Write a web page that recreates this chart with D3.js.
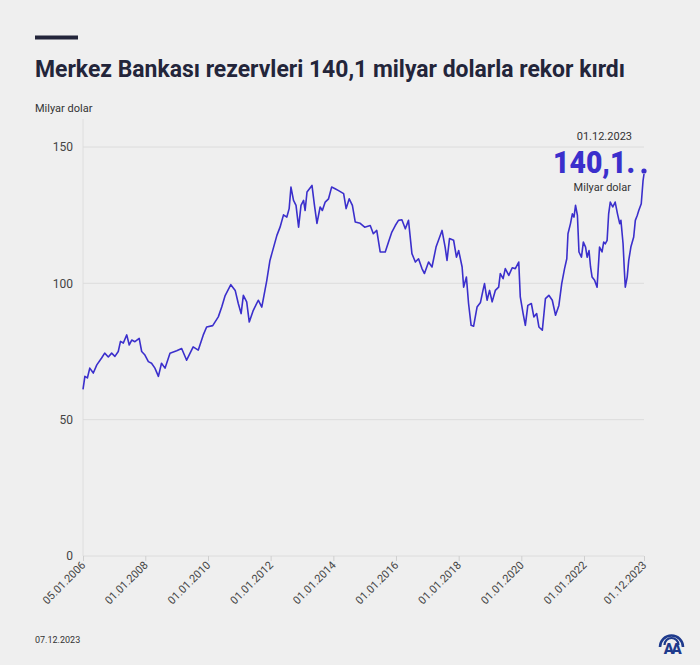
<!DOCTYPE html>
<html>
<head>
<meta charset="utf-8">
<script src="https://cdn.jsdelivr.net/npm/d3@7"></script>
<style>
  html, body { margin: 0; padding: 0; background: #efefef; }
  svg { display: block; font-family: Roboto, "Noto Sans", sans-serif; }
</style>
</head>
<body>
<svg id="chart" width="700" height="665"></svg>
<script>
const dates = [
  "2006-01-05","2006-01-27","2006-02-25","2006-03-25","2006-05-05","2006-06-15","2006-08-10","2006-09-15","2006-10-27","2006-12-05",
  "2007-01-12","2007-02-20","2007-03-18","2007-04-20","2007-05-30","2007-06-28","2007-07-27","2007-09-02","2007-10-22","2007-11-20","2007-12-28",
  "2008-02-06","2008-03-14","2008-04-22","2008-06-02","2008-07-08","2008-08-18","2008-10-15","2009-01-01",
  "2009-02-28","2009-04-27","2009-07-12","2009-09-09","2009-11-06","2009-12-16",
  "2010-02-25","2010-05-01","2010-06-10","2010-07-20","2010-09-24","2010-11-14","2010-12-20",
  "2011-01-22","2011-02-17","2011-03-28","2011-04-27","2011-06-13","2011-08-10","2011-09-20","2011-11-17","2011-12-24",
  "2012-01-15","2012-03-14","2012-04-20","2012-05-30","2012-07-08","2012-08-04","2012-08-25","2012-09-24","2012-10-23","2012-11-22","2012-12-20",
  "2013-01-19","2013-02-06","2013-02-28","2013-04-27","2013-05-26","2013-06-24","2013-07-31","2013-08-26","2013-09-28","2013-11-06","2013-12-12",
  "2014-01-22","2014-03-03","2014-05-01","2014-05-30","2014-07-05","2014-08-11","2014-09-13","2014-11-10",
  "2015-01-01","2015-03-07","2015-04-12","2015-05-22","2015-07-01","2015-08-29","2015-10-05","2015-11-14","2015-12-24",
  "2016-01-30","2016-03-10","2016-04-19","2016-05-26","2016-07-05","2016-08-14","2016-09-20","2016-10-30","2016-11-28",
  "2017-01-15","2017-02-24","2017-04-12","2017-06-21","2017-07-27","2017-08-18","2017-09-16","2017-11-03","2017-12-06",
  "2018-01-01","2018-02-10","2018-02-28","2018-04-01","2018-04-26","2018-05-26","2018-06-24","2018-08-03","2018-09-12","2018-10-11","2018-10-29","2018-11-28","2018-12-27",
  "2019-01-26","2019-03-04","2019-04-12","2019-05-01","2019-06-03","2019-06-28","2019-08-08","2019-09-17","2019-10-23","2019-12-02","2019-12-20",
  "2020-01-22","2020-02-17","2020-03-17","2020-04-27","2020-05-26","2020-06-28","2020-07-24","2020-09-02","2020-10-08","2020-11-17","2020-12-27",
  "2021-02-03","2021-03-14","2021-04-16","2021-05-19","2021-06-14","2021-06-28","2021-07-27","2021-08-18","2021-09-06","2021-09-24","2021-10-16","2021-11-03","2021-12-02","2021-12-24",
  "2022-01-19","2022-02-06","2022-02-28","2022-03-18","2022-04-05","2022-05-04","2022-06-02","2022-07-01","2022-07-30","2022-08-18","2022-09-05","2022-09-27","2022-10-15","2022-11-03","2022-12-02","2022-12-30",
  "2023-01-26","2023-02-21","2023-03-07","2023-04-01","2023-04-16","2023-04-27","2023-05-19","2023-06-06","2023-07-01","2023-08-03","2023-08-22","2023-09-13","2023-10-01","2023-10-30","2023-11-20","2023-12-01"
];
const reserves = [
  61.1,65.9,65.3,68.9,67.1,70.1,72.6,74.4,73.0,74.4,
  73.2,75.0,78.7,78.1,81.1,77.4,79.2,78.6,79.8,75.0,73.7,
  71.3,70.7,68.9,65.9,70.7,68.9,74.4,75.3,
  76.1,71.8,76.7,75.5,81.0,84.0,
  84.5,87.7,91.3,95.5,99.5,97.4,92.6,
  88.9,95.6,93.2,85.8,90.1,93.8,91.3,101.0,108.4,
  110.9,117.6,120.6,125.1,124.3,127.4,135.3,130.4,128.6,120.6,128.6,
  130.4,126.7,133.5,135.9,128.6,122.0,128.0,126.7,129.8,131.0,135.3,
  134.7,134.0,132.9,127.4,131.0,128.6,122.5,122.0,
  120.6,121.2,118.2,119.4,111.5,111.5,115.1,118.8,121.2,
  123.1,123.3,120.0,123.1,110.9,107.8,109.0,105.4,103.6,
  107.8,106.0,113.3,119.4,113.3,108.4,116.4,115.8,109.6,
  112.0,106.0,98.6,102.3,92.6,84.6,84.3,91.3,93.0,97.4,99.9,93.8,97.4,
  93.2,97.4,98.6,103.6,101.7,105.4,102.9,105.7,105.4,107.8,95.0,
  88.9,84.6,91.9,92.6,87.7,88.9,84.0,82.8,94.4,95.6,93.8,
  88.3,91.9,99.9,105.4,109.0,118.2,121.9,125.5,124.3,128.6,124.9,111.5,109.6,115.1,
  113.3,109.6,112.0,106.0,102.3,101.1,98.6,113.3,111.5,115.1,114.5,115.8,125.5,129.8,128.0,129.8,
  125.5,121.9,123.1,114.5,104.8,98.6,102.3,108.4,113.3,117.0,123.1,124.9,126.7,129.2,137.7,140.1
];
const yTicks = [0, 50, 100, 150];
const xTickDates = ["2006-01-05","2008-01-01","2010-01-01","2012-01-01","2014-01-01","2016-01-01","2018-01-01","2020-01-01","2022-01-01","2023-12-01"];

const parse = d3.timeParse("%Y-%m-%d");
const fmt = d3.timeFormat("%d.%m.%Y");
const series = dates.map((d, i) => ({ date: parse(d), value: reserves[i] }));
const last = series[series.length - 1];

const svg = d3.select("#chart");
const lineColor = "#3b2fcc";
const ink = "#23253a";

const x = d3.scaleTime()
  .domain([parse(xTickDates[0]), parse(xTickDates[xTickDates.length - 1])])
  .range([83, 644]);
const y = d3.scaleLinear().domain([0, 150]).range([556, 147]);

// header
svg.append("rect").attr("x", 35).attr("y", 35.5).attr("width", 43).attr("height", 4).attr("fill", ink);
svg.append("text")
  .attr("x", 35).attr("y", 77)
  .attr("font-size", 24).attr("font-weight", 700).attr("fill", ink)
  .attr("textLength", 590).attr("lengthAdjust", "spacingAndGlyphs")
  .text("Merkez Bankası rezervleri 140,1 milyar dolarla rekor kırdı");
svg.append("text")
  .attr("x", 35).attr("y", 111.5)
  .attr("font-size", 11).attr("fill", "#333")
  .text("Milyar dolar");

// grid
svg.append("line")
  .attr("x1", 83).attr("x2", 83).attr("y1", 119).attr("y2", 556)
  .attr("stroke", "#dedede");
svg.append("g")
  .selectAll("line")
  .data(yTicks)
  .join("line")
  .attr("x1", 83).attr("x2", 644)
  .attr("y1", (d) => y(d)).attr("y2", (d) => y(d))
  .attr("stroke", "#dcdcdc");

svg.append("g")
  .selectAll("text")
  .data(yTicks)
  .join("text")
  .attr("x", 73).attr("y", (d) => y(d))
  .attr("dy", "0.35em")
  .attr("text-anchor", "end")
  .attr("font-size", 12).attr("fill", "#444")
  .text((d) => d);

// x axis
const xAxis = svg.append("g")
  .attr("transform", `translate(0,${y(0)})`)
  .call(d3.axisBottom(x)
    .tickValues(xTickDates.map(parse))
    .tickFormat(fmt)
    .tickSize(5));
xAxis.select(".domain").remove();
xAxis.selectAll(".tick line").attr("stroke", "#cfcfcf");
xAxis.selectAll(".tick text")
  .attr("font-family", "Roboto, sans-serif")
  .attr("font-size", 11).attr("fill", "#444")
  .attr("text-anchor", "end")
  .attr("transform", "rotate(-45)")
  .attr("x", -5).attr("y", 5).attr("dy", "0.35em");

// line
const line = d3.line().x((d) => x(d.date)).y((d) => y(d.value));
svg.append("path")
  .datum(series)
  .attr("d", line)
  .attr("fill", "none")
  .attr("stroke", lineColor)
  .attr("stroke-width", 1.6)
  .attr("stroke-linejoin", "round");
svg.append("circle")
  .attr("cx", x(last.date)).attr("cy", y(last.value) - 3)
  .attr("r", 2.6).attr("fill", lineColor);

// annotation
svg.append("text")
  .attr("x", 632).attr("y", 140)
  .attr("text-anchor", "end").attr("font-size", 11).attr("fill", "#333")
  .text(fmt(last.date));
svg.append("text")
  .attr("x", 553).attr("y", 173)
  .attr("font-size", 32).attr("font-weight", 900)
  .attr("fill", lineColor)
  .attr("textLength", 82).attr("lengthAdjust", "spacingAndGlyphs")
  .text("140,1.");
svg.append("text")
  .attr("x", 631).attr("y", 191)
  .attr("text-anchor", "end").attr("font-size", 11).attr("fill", "#333")
  .text("Milyar dolar");

// footer
svg.append("text")
  .attr("x", 35).attr("y", 643)
  .attr("font-size", 9).attr("fill", "#333")
  .text("07.12.2023");

const logo = svg.append("g").attr("fill", "none").attr("stroke", "#1e3a8c");
logo.append("path").attr("d", "M660,647 A11.5,11.5 0 0 1 683,647").attr("stroke-width", 2.6);
logo.append("path").attr("d", "M664.5,645 A7,7 0 0 1 678.5,645").attr("stroke-width", 2.2);
svg.append("text")
  .attr("x", 671.5).attr("y", 653.5)
  .attr("text-anchor", "middle")
  .attr("font-size", 15).attr("font-weight", 900).attr("fill", "#1e3a8c")
  .attr("letter-spacing", -2.5)
  .text("AA");
</script>
</body>
</html>
